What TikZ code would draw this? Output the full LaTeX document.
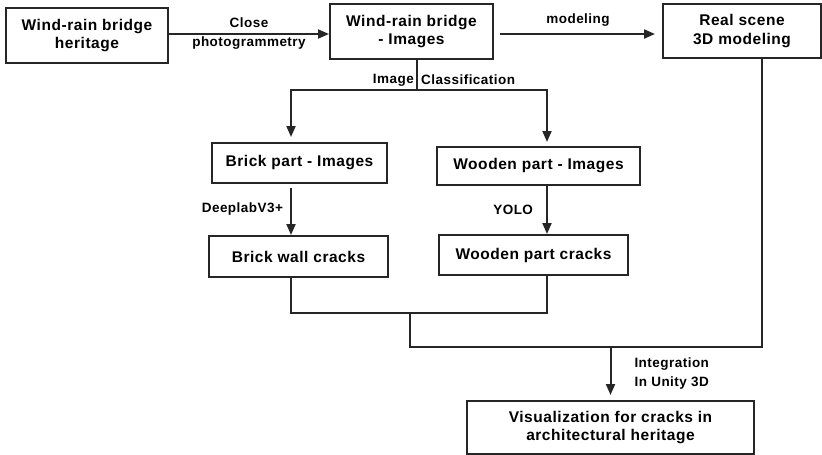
\documentclass[tikz,border=0pt]{standalone}
\usepackage{fontspec}
\setmainfont[LetterSpace=3.5]{Liberation Sans}
\usetikzlibrary{arrows.meta}
\usetikzlibrary{calc}
\begin{document}
\begin{tikzpicture}[x=1pt,y=-1pt,>={Triangle[length=11pt,width=9pt]},
doboz/.style={ rectangle,draw=black!85,line width=2pt,align=center,inner sep=0pt,font=\fontsize{15.5}{18.5}\selectfont\bfseries
},
cimke/.style={align=center,inner sep=1pt,font=\fontsize{13.5}{19}\selectfont\bfseries}]
\useasboundingbox (0,0) rectangle (822,455);
\node[doboz,minimum width=162pt,minimum height=55pt](heritage) at (87,35.5){Wind-rain bridge\\heritage};
\node[doboz,minimum width=163pt,minimum height=55pt](images) at (411.5,31.5){Wind-rain bridge\\- Images};
\node[doboz,minimum width=158pt,minimum height=54pt](scene) at (742,31){Real scene\\3D modeling};
\node[doboz,minimum width=175pt,minimum height=40pt](brick) at (299.5,163){Brick part - Images};
\node[doboz,minimum width=203pt,minimum height=38pt](wooden) at (538.5,166){Wooden part - Images};
\node[doboz,minimum width=179pt,minimum height=41pt](brickcr) at (298.5,256.5){Brick wall cracks};
\node[doboz,minimum width=189pt,minimum height=40pt](woodcr) at (533.5,255){Wooden part cracks};
\node[doboz,minimum width=287pt,minimum height=53pt](vis) at (610.5,427.5){Visualization for cracks in\\architectural heritage};
\coordinate(bal) at (291,0);
\coordinate(jobb) at (547,0);
\coordinate(oszt) at (417,90);
\coordinate(egyes) at (410,313);
\coordinate(gyujt) at (410,347);
\coordinate(valos) at (762,0);
\begin{scope}[line width=2pt, draw=black!85]
 \draw[->] (heritage.east|-0,34)--(images.west|-0,34) node[midway, cimke]{Close\\photogrammetry};
 \draw[->, shorten <=6pt, shorten >=7pt] (images.east|-0,34)--(scene.west|-0,34) node[midway, above=6pt, cimke]{modeling};
 \draw (images.south-|oszt)--(oszt);
 \draw[->, shorten >=5pt] (oszt)-|(brick.north-|bal);
 \draw[->, shorten >=4pt] (oszt)-|(wooden.north-|jobb);
 \draw[->, shorten <=4pt] (brick.south-|bal)--(brickcr.north-|bal) node[midway, left=6pt, cimke]{DeeplabV3+};
 \draw[->] (wooden.south-|jobb)--(woodcr.north-|jobb) node[midway, left=12pt, cimke]{YOLO};
 \draw (brickcr.south-|bal)|-(egyes)-|(woodcr.south-|jobb);
 \draw (egyes)--(gyujt)--(gyujt-|valos)--(scene.south-|valos);
 \draw[->, shorten >=5pt] (vis.north|-gyujt)--(vis.north) node[midway, right=22pt, cimke]{Integration\\In Unity 3D};
\end{scope}
\node[cimke, anchor=east](kep) at (415,80){Image};
\node[cimke, anchor=west](osztalyozas) at (420,80){Classification};
\end{tikzpicture}
\end{document}
